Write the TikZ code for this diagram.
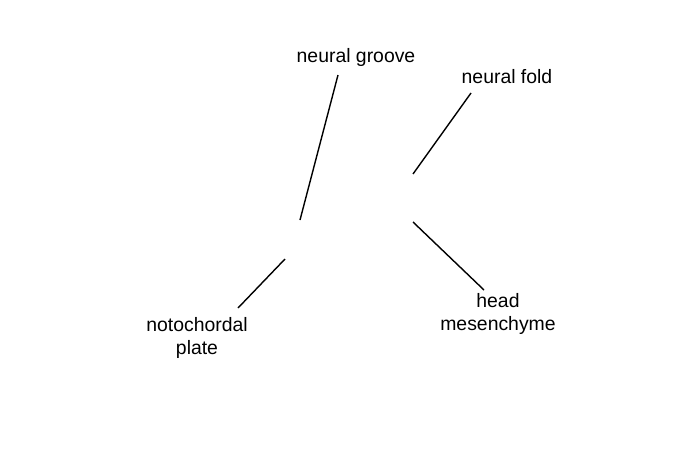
\documentclass[tikz,border=0pt]{standalone}
\usepackage{fontspec}
\setmainfont{Liberation Sans}
\begin{document}
\begin{tikzpicture}[x=1pt,y=-1pt,
  lbl/.style={font=\fontsize{19.4}{23.5}\selectfont, align=center, inner sep=0pt},
  ptr/.style={line width=1.4pt, black}]
\useasboundingbox (0,0) rectangle (675,450);
\node[lbl] (ng) at (356,57) {neural groove};
\node[lbl] (nf) at (507,77) {neural fold};
\node[lbl] (hm) at (498,314) {head\\mesenchyme};
\node[lbl] (np) at (197,338) {notochordal\\plate};
\coordinate (ngA) at (338,75);
\coordinate (ngB) at (300,220);
\coordinate (nfA) at (471,93);
\coordinate (nfB) at (413,174);
\coordinate (hmA) at (484,290);
\coordinate (hmB) at (413,222);
\coordinate (npA) at (238,308);
\coordinate (npB) at (285,259);
\draw[ptr] (ngA) -- (ngB);
\draw[ptr] (nfA) -- (nfB);
\draw[ptr] (hmA) -- (hmB);
\draw[ptr] (npA) -- (npB);
\end{tikzpicture}
\end{document}
